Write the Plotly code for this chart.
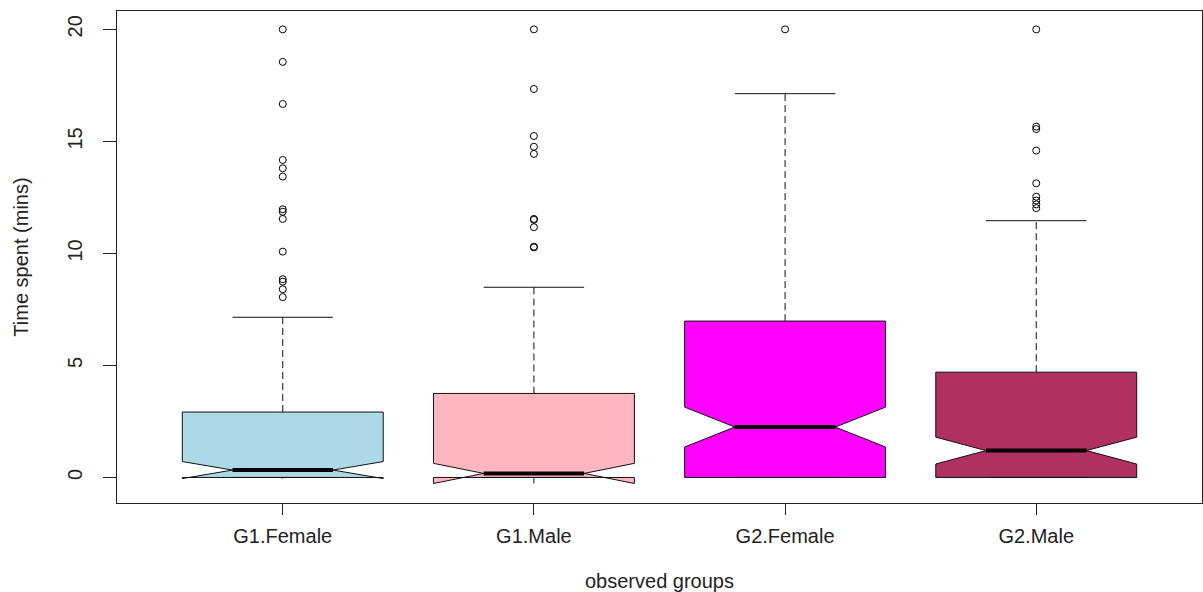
import plotly.graph_objects as go

# Group labels and fill colours
groups = ["G1.Female", "G1.Male", "G2.Female", "G2.Male"]
fill_colors = ["#ADD8E6", "#FFB6C1", "#FF00FF", "#B03060"]

# Five-number summaries (minutes) and notch half-widths
lower_whisker = [0.0, 0.0, 0.0, 0.0]
q1 = [0.0, 0.0, 0.0, 0.0]
median = [0.33, 0.18, 2.25, 1.20]
q3 = [2.92, 3.75, 6.98, 4.70]
upper_whisker = [7.15, 8.49, 17.13, 11.46]
notch_half = [0.38, 0.45, 0.89, 0.60]

# Outlying observations per group
outliers_g1_female = [20.0, 18.55, 16.67, 14.17, 13.80, 13.43, 11.97, 11.86, 11.54,
                      10.08, 8.85, 8.74, 8.40, 8.05]
outliers_g1_male = [20.0, 17.34, 15.24, 14.76, 14.44, 11.54, 11.50, 11.17, 10.30, 10.27]
outliers_g2_female = [20.0]
outliers_g2_male = [20.0, 15.66, 15.55, 14.59, 13.13, 12.53, 12.36, 12.19, 12.02]
outliers = [outliers_g1_female, outliers_g1_male, outliers_g2_female, outliers_g2_male]

y_ticks = [0, 5, 10, 15, 20]

BOX_WIDTH = 0.8
HALF = BOX_WIDTH / 2
STAPLE_HALF = HALF / 2
FONT = "Liberation Sans, Arial, sans-serif"
INK = "#222222"

positions = list(range(1, len(groups) + 1))

fig = go.Figure()

for i, pos in enumerate(positions):
    # notched box (whiskers drawn separately so they can be dashed)
    fig.add_trace(go.Box(
        x=[pos],
        q1=[q1[i]], median=[median[i]], q3=[q3[i]],
        lowerfence=[q1[i]], upperfence=[q3[i]],
        notchspan=[notch_half[i]],
        notched=True, notchwidth=0.25,
        width=BOX_WIDTH, whiskerwidth=0,
        fillcolor=fill_colors[i],
        line=dict(color="#111111", width=1),
        boxpoints=False, hoverinfo="skip", showlegend=False,
    ))

    # dashed whiskers
    for lo, hi in ((q3[i], upper_whisker[i]), (lower_whisker[i], q1[i])):
        if hi > lo:
            fig.add_trace(go.Scatter(
                x=[pos, pos], y=[lo, hi], mode="lines",
                line=dict(color="#111111", width=1, dash="7px,4px"),
                showlegend=False, hoverinfo="skip",
            ))

    # staples
    for v in (upper_whisker[i], lower_whisker[i]):
        fig.add_trace(go.Scatter(
            x=[pos - STAPLE_HALF, pos + STAPLE_HALF], y=[v, v], mode="lines",
            line=dict(color="#111111", width=1),
            showlegend=False, hoverinfo="skip",
        ))

    # heavy median bar
    fig.add_trace(go.Scatter(
        x=[pos - STAPLE_HALF, pos + STAPLE_HALF], y=[median[i], median[i]],
        mode="lines", line=dict(color="black", width=4),
        showlegend=False, hoverinfo="skip",
    ))

    # outliers
    fig.add_trace(go.Scatter(
        x=[pos] * len(outliers[i]), y=outliers[i], mode="markers",
        marker=dict(symbol="circle-open", size=7, color="black",
                    line=dict(width=1, color="black")),
        showlegend=False, hoverinfo="skip",
    ))

fig.update_layout(
    width=1203, height=592,
    margin=dict(l=117, r=1, t=11, b=89),
    paper_bgcolor="white", plot_bgcolor="white",
    boxmode="overlay",
    font=dict(family=FONT, size=20, color=INK),
    xaxis=dict(
        range=[0.34, 4.66],
        tickmode="array", tickvals=positions, ticktext=groups,
        ticks="outside", ticklen=11, tickwidth=1, tickcolor=INK,
        ticklabelstandoff=4,
        showline=True, linecolor=INK, linewidth=1, mirror=True,
        showgrid=False, zeroline=False,
        title=dict(text="observed groups", standoff=28,
                   font=dict(family=FONT, size=20, color=INK)),
    ),
    yaxis=dict(
        range=[-1.14, 20.82],
        tickmode="array", tickvals=y_ticks,
        ticks="outside", ticklen=13, tickwidth=1, tickcolor=INK,
        tickangle=-90, ticklabelstandoff=13,
        showline=True, linecolor=INK, linewidth=1, mirror=True,
        showgrid=False, zeroline=False,
        title=dict(text="Time spent (mins)", standoff=30,
                   font=dict(family=FONT, size=20, color=INK)),
    ),
)

fig.write_html("out.html")
